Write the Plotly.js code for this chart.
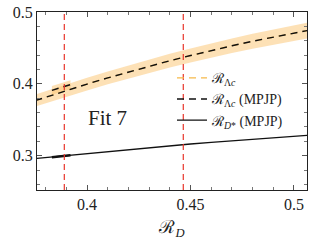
<!DOCTYPE html>
<html><head><meta charset="utf-8">
<script src="https://cdn.plot.ly/plotly-3.0.1.min.js"></script>
<style>html,body{margin:0;padding:0;background:#fff}</style>
</head><body><div id="chart" style="width:312px;height:246px"></div>
<script>
// R_D grid
const rD = [0.375, 0.38, 0.39, 0.40, 0.41, 0.42, 0.43, 0.44, 0.45, 0.46, 0.47, 0.48, 0.49, 0.50, 0.51];
// R_Lambda_c central (MPJP)
const rLc = [0.3767, 0.3815, 0.3908, 0.3997, 0.4083, 0.4166, 0.4245, 0.4322, 0.4394, 0.4464, 0.4530, 0.4593, 0.4653, 0.4709, 0.4762];
// band half-widths
const rLcErr = [0.0083, 0.0084, 0.0086, 0.0088, 0.0090, 0.0092, 0.0094, 0.0096, 0.0098, 0.0100, 0.0102, 0.0104, 0.0106, 0.0108, 0.0110];
// R_D* (MPJP)
const rDs = [0.2962, 0.2976, 0.3004, 0.3033, 0.3060, 0.3087, 0.3114, 0.3140, 0.3163, 0.3185, 0.3208, 0.3230, 0.3250, 0.3270, 0.3290];
// short overlapping pieces near the first marker
const rDpiece = [0.383, 0.3875, 0.392];
const rLcPiece = [0.3910, 0.3950, 0.3990];
const rLcPieceErr = [0.006, 0.006, 0.006];
const rDsPiece = [0.2980, 0.2993, 0.3005];
// vertical reference lines
const refLines = [0.389, 0.4465];

const lo = rLc.map((v, i) => v - rLcErr[i]);
const hi = rLc.map((v, i) => v + rLcErr[i]);
const pLo = rLcPiece.map((v, i) => v - rLcPieceErr[i]);
const pHi = rLcPiece.map((v, i) => v + rLcPieceErr[i]);

const serif = 'Liberation Serif, DejaVu Serif, serif';
const band = 'rgba(252,196,110,0.5)';
const traces = [
  {x: rD, y: lo, mode: 'lines', line: {width: 0}, showlegend: false, hoverinfo: 'skip'},
  {x: rD, y: hi, mode: 'lines', line: {width: 0}, fill: 'tonexty', fillcolor: band, showlegend: false, hoverinfo: 'skip'},
  {x: rDpiece, y: pLo, mode: 'lines', line: {width: 0}, showlegend: false, hoverinfo: 'skip'},
  {x: rDpiece, y: pHi, mode: 'lines', line: {width: 0}, fill: 'tonexty', fillcolor: band, showlegend: false, hoverinfo: 'skip'},
  {x: rD, y: rLc, mode: 'lines', name: 'ℛ<sub>Λ<i>c</i></sub>', line: {color: '#f6b94a', width: 1.2, dash: '7px,5px'}},
  {x: rD, y: rLc, mode: 'lines', name: 'ℛ<sub>Λ<i>c</i></sub> (MPJP)', line: {color: '#111', width: 1.4, dash: '7px,5px'}},
  {x: rDpiece, y: rLcPiece, mode: 'lines', showlegend: false, line: {color: '#111', width: 1.4, dash: '7px,5px'}},
  {x: rD, y: rDs, mode: 'lines', name: 'ℛ<sub><i>D</i>*</sub> (MPJP)', line: {color: '#111', width: 1.3}},
  {x: rDpiece, y: rDsPiece, mode: 'lines', showlegend: false, line: {color: '#111', width: 2.5}}
];

const shapes = refLines.map(v => ({type: 'line', xref: 'x', yref: 'paper', x0: v, x1: v, y0: 0, y1: 1,
  line: {color: '#e8352b', width: 1.2, dash: '6px,4px'}}));

const font = {family: serif, color: '#222', size: 16};
const axisCommon = {showgrid: false, zeroline: false, showline: true, linecolor: '#222', linewidth: 1,
  mirror: 'allticks', ticks: 'inside', ticklen: 5, tickcolor: '#555', tickfont: font};

const layout = {
  width: 312, height: 246,
  margin: {l: 37, r: 5, t: 12, b: 56},
  paper_bgcolor: '#fff', plot_bgcolor: '#fff',
  font: font,
  showlegend: true,
  legend: {x: 0.5, y: 0.718, xanchor: 'left', yanchor: 'top', bgcolor: 'rgba(0,0,0,0)',
    traceorder: 'normal',
    font: {family: serif, size: 14, color: '#222'},
    tracegroupgap: 0},
  xaxis: Object.assign({}, axisCommon, {range: [0.3758, 0.5063], dtick: 0.05, tick0: 0.4,
    minor: {dtick: 0.01, ticks: 'inside', ticklen: 3, tickcolor: '#777'},
    title: {text: 'ℛ<sub><i>D</i></sub>', font: {family: serif, size: 18, color: '#222'}, standoff: 8}}),
  yaxis: Object.assign({}, axisCommon, {range: [0.2523, 0.5], dtick: 0.1, tick0: 0.3,
    minor: {dtick: 0.02, ticks: 'inside', ticklen: 3, tickcolor: '#777'}}),
  shapes: shapes,
  annotations: [{x: 0.4099, y: 0.3525, xref: 'x', yref: 'y', text: 'Fit 7', showarrow: false,
    font: {family: serif, size: 21, color: '#222'}}]
};

Plotly.newPlot('chart', traces, layout, {displayModeBar: false, staticPlot: true});
</script></body></html>
